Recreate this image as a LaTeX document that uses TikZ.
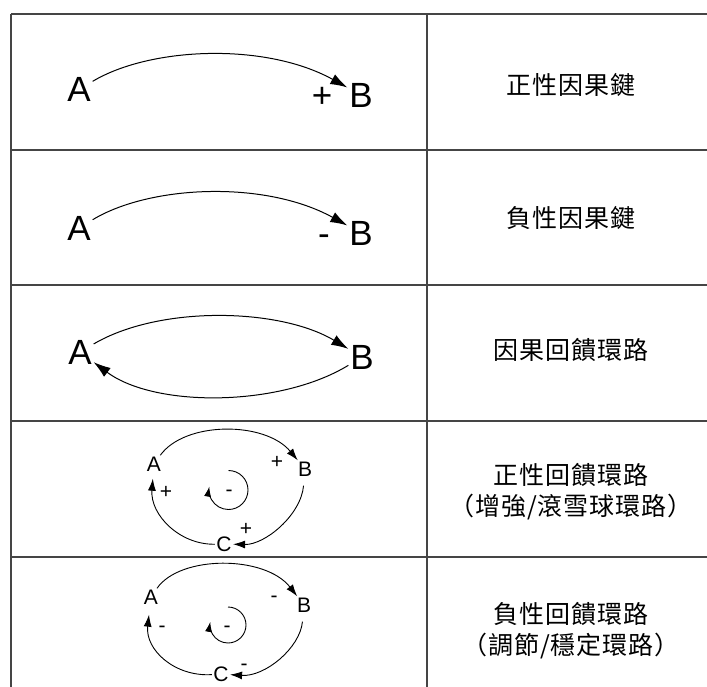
\documentclass[tikz,border=0pt]{standalone}
\usepackage{fontspec}
\usetikzlibrary{arrows.meta}
\newfontfamily\arialfont{Liberation Sans}
\newfontfamily\cjkfont[LetterSpace=4]{Noto Sans CJK TC}
\definecolor{rulegray}{HTML}{454545}
\newcommand{\bigsf}{\arialfont\fontsize{35bp}{35bp}\selectfont}
\newcommand{\smallsf}{\arialfont\fontsize{21bp}{21bp}\selectfont}
\newcommand{\cjk}{\cjkfont\fontsize{25bp}{31bp}\selectfont}

\begin{document}
\begin{tikzpicture}[x=1bp, y=1bp,
  rule/.style={rulegray, line width=1.8bp},
  big/.style={font=\bigsf, inner sep=0pt, outer sep=2bp},
  small/.style={font=\smallsf, inner sep=0pt, outer sep=1.5bp},
  bigsign/.style={font=\bigsf, inner sep=0pt, anchor=base},
  smallsign/.style={font=\smallsf, inner sep=0pt, anchor=base},
  link/.style={line width=1bp, -{Latex[length=17bp,width=11bp]}},
  slink/.style={line width=0.9bp, -{Latex[length=12bp,width=8bp]}},
  loopy/.style={line width=0.9bp, -{Latex[length=10bp,width=7bp]}},
  label/.style={font=\cjk, align=center, inner sep=0pt}]
\useasboundingbox (0,0) rectangle (707,-687);

% Table
\draw[rule] (11,-14) -- (707,-14);
\draw[rule] (11,-150) -- (707,-150);
\draw[rule] (11,-285) -- (707,-285);
\draw[rule] (11,-421) -- (707,-421);
\draw[rule] (11,-557) -- (707,-557);
\draw[rule] (11,-14) -- (11,-687);
\draw[rule] (427,-14) -- (427,-687);

% Row 1
\node[big] (a1) at (79,-89.5) {A};
\node[big] (b1) at (361,-95) {B};
\node[bigsign] (p1) at (322,-107.5) {+};
\draw[link] (a1) .. controls (150,-47) and (265,-42) .. (b1);
\node[label] (t1) at (571,-85) {正性因果鍵};

% Row 2
\node[big] (a2) at (79,-228) {A};
\node[big] (b2) at (361,-233) {B};
\node[bigsign] (m2) at (324,-245.5) {-};
\draw[link] (a2) .. controls (150,-185) and (265,-180) .. (b2);
\node[label] (t2) at (571,-218) {負性因果鍵};

% Row 3
\node[big] (a3) at (80,-352) {A};
\node[big] (b3) at (362,-357) {B};
\draw[link] (a3) .. controls (160,-305) and (280,-308) .. (b3);
\draw[link] (b3) .. controls (280,-407) and (155,-408) .. (a3);
\node[label] (t3) at (571,-350) {因果回饋環路};

% Row 4
\node[small] (a4) at (154,-464) {A};
\node[small] (b4) at (305,-469) {B};
\node[small] (c4) at (224,-544) {C};
\draw[slink] (a4) .. controls (185,-421) and (265,-421) .. (b4);
\draw[slink, shorten <=8bp] (b4) .. controls (301,-515) and (265,-545) .. (c4);
\draw[slink, shorten >=6bp] (c4) .. controls (180,-545) and (150,-515) .. (a4);
\node[smallsign] (pb4) at (277,-468) {+};
\node[smallsign] (pc4) at (246,-535) {+};
\node[smallsign] (pa4) at (166,-498) {+};
\draw[loopy] (228.5,-490) ++(90:19.5) arc[start angle=90, end angle=-190, radius=19.5];
\node[smallsign] (ml4) at (229,-496) {-};
\node[label] (t4) at (571,-492) {正性回饋環路\\（增強/滾雪球環路）};

% Row 5
\node[small] (a5) at (151,-597) {A};
\node[small] (b5) at (304,-605) {B};
\node[small] (c5) at (221,-674) {C};
\draw[slink] (a5) .. controls (180,-555) and (265,-555) .. (b5);
\draw[slink, shorten <=8bp] (b5) .. controls (300,-648) and (265,-677) .. (c5);
\draw[slink, shorten >=9bp] (c5) .. controls (175,-677) and (145,-650) .. (a5);
\node[smallsign] (mb5) at (274,-602) {-};
\node[smallsign] (mc5) at (244,-670) {-};
\node[smallsign] (ma5) at (162,-632) {-};
\draw[loopy] (228,-625) ++(90:18) arc[start angle=90, end angle=-190, radius=18];
\node[smallsign] (ml5) at (227,-632) {-};
\node[label] (t5) at (571,-631) {負性回饋環路\\（調節/穩定環路）};
\end{tikzpicture}
\end{document}
